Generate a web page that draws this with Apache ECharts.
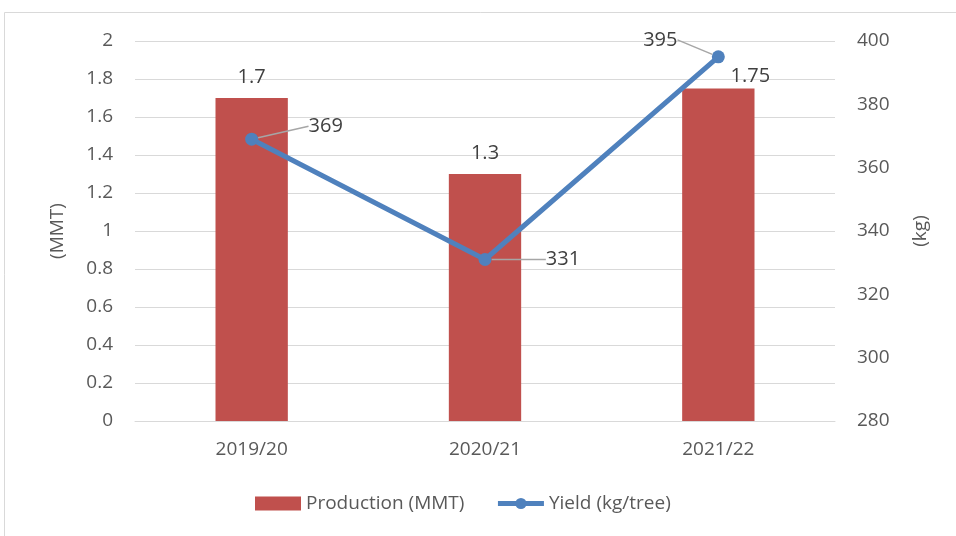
<!DOCTYPE html>
<html><head><meta charset="utf-8">
<script src="https://cdn.jsdelivr.net/npm/echarts@6/dist/echarts.min.js"></script>
<style>html,body{margin:0;padding:0;background:#fff}#c{width:956px;height:536px}</style>
</head><body><div id="c"></div>
<script>
const categories = ['2019/20', '2020/21', '2021/22'];
const production = [1.7, 1.3, 1.75];
const yieldKg = [369, 331, 395];
const leftTicks = { min: 0, max: 2, interval: 0.2 };
const rightTicks = { min: 280, max: 400, interval: 20 };

const FONT = '"Open Sans", sans-serif';
const lineLabelShift = [[74, -13], [78, 0], [-58, -17]];

const chart = echarts.init(document.getElementById('c'));
chart.setOption({
  animation: false,
  backgroundColor: '#fff',
  graphic: [{
    type: 'rect', shape: { x: 4.5, y: 12.5, width: 960, height: 540 },
    style: { fill: 'none', stroke: '#d9d9d9', lineWidth: 1 }, silent: true, z: -1
  }],
  grid: { left: 135, right: 121, top: 41, bottom: 115 },
  legend: {
    bottom: 18, left: 250, itemGap: 31, itemWidth: 46, itemHeight: 14,
    textStyle: { fontFamily: FONT, fontSize: 19, color: '#595959', padding: [0, 0, 0, 0] },
    data: [
      { name: 'Production (MMT)', icon: 'rect' },
      { name: 'Yield (kg/tree)', itemStyle: { color: '#4F81BD' }, lineStyle: { width: 5, color: '#4F81BD' } }
    ]
  },
  xAxis: {
    type: 'category', data: categories,
    axisLine: { lineStyle: { color: '#d9d9d9' } },
    axisTick: { show: false },
    axisLabel: { fontFamily: FONT, fontSize: 19, color: '#595959', margin: 19 }
  },
  yAxis: [{
    type: 'value', min: leftTicks.min, max: leftTicks.max, interval: leftTicks.interval,
    name: '(MMT)', nameLocation: 'middle', nameGap: 68, nameRotate: 90,
    nameTextStyle: { fontFamily: FONT, fontSize: 19, color: '#595959' },
    axisLabel: { fontFamily: FONT, fontSize: 19, color: '#595959', margin: 22,
      formatter: v => String(Math.round(v * 10) / 10) },
    splitLine: { lineStyle: { color: '#d9d9d9' } },
    axisLine: { show: false }, axisTick: { show: false }
  }, {
    type: 'value', min: rightTicks.min, max: rightTicks.max, interval: rightTicks.interval,
    name: '(kg)', nameLocation: 'middle', nameGap: 76, nameRotate: 90,
    nameTextStyle: { fontFamily: FONT, fontSize: 19, color: '#595959' },
    axisLabel: { fontFamily: FONT, fontSize: 19, color: '#595959', margin: 22 },
    splitLine: { show: false },
    axisLine: { show: false }, axisTick: { show: false }
  }],
  series: [{
    name: 'Production (MMT)', type: 'bar', barWidth: '31%',
    itemStyle: { color: '#C0504D' },
    label: { show: true, position: 'top', distance: 11, fontFamily: FONT, fontSize: 20, color: '#404040' },
    data: production.map((v, i) => i === 2 ? { value: v, label: { offset: [32, 9] } } : v)
  }, {
    name: 'Yield (kg/tree)', type: 'line', yAxisIndex: 1,
    symbol: 'circle', symbolSize: 13,
    lineStyle: { color: '#4F81BD', width: 5 },
    itemStyle: { color: '#4F81BD' },
    label: { show: true, position: 'inside', fontFamily: FONT, fontSize: 20, color: '#404040' },
    labelLine: { show: true, lineStyle: { color: '#a6a6a6', width: 1.5 } },
    labelLayout: p => ({ dx: lineLabelShift[p.dataIndex][0], dy: lineLabelShift[p.dataIndex][1] }),
    data: yieldKg, z: 3
  }]
});
</script></body></html>
